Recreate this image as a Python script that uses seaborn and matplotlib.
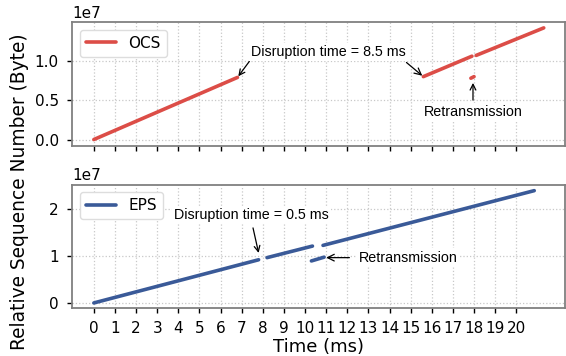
import numpy as np
import pandas as pd
import seaborn as sns
import matplotlib.pyplot as plt

# time (ms) / relative sequence number (byte), one list per drawn segment
ocs_t1 = [0.0, 6.8]
ocs_seq1 = [0.0, 0.79e7]
ocs_t2 = [15.6, 17.9]
ocs_seq2 = [0.80e7, 1.06e7]
ocs_retx_t = [17.85, 18.0]
ocs_retx_seq = [0.78e7, 0.80e7]
ocs_t3 = [18.1, 21.3]
ocs_seq3 = [1.07e7, 1.42e7]

eps_t1 = [0.0, 7.8]
eps_seq1 = [0.0, 0.915e7]
eps_t2 = [8.2, 10.35]
eps_seq2 = [0.96e7, 1.205e7]
eps_retx_t = [10.3, 10.9]
eps_retx_seq = [0.89e7, 0.97e7]
eps_t3 = [10.85, 20.85]
eps_seq3 = [1.22e7, 2.38e7]

xticks = list(range(0, 21))

OCS_COLOR = '#dc4d47'
EPS_COLOR = '#3a5a98'

sns.set_theme(style='ticks')
plt.rcParams['font.family'] = ['DejaVu Sans']
plt.rcParams['axes.edgecolor'] = '#808080'
plt.rcParams['axes.linewidth'] = 1.3
plt.rcParams['text.color'] = 'black'
plt.rcParams['xtick.color'] = 'black'
plt.rcParams['ytick.color'] = 'black'
plt.rcParams['axes.labelcolor'] = 'black'

fig, (ax1, ax2) = plt.subplots(2, 1, sharex=True, figsize=(5.66, 3.56), dpi=100)
fig.subplots_adjust(left=0.127, right=0.998, top=0.938, bottom=0.135, hspace=0.316)


def draw(ax, segs, color, name):
    for i, (t, s) in enumerate(segs):
        df = pd.DataFrame({'t': t, 's': s})
        sns.lineplot(data=df, x='t', y='s', color=color, lw=2.6,
                     label=name if i == 0 else None, ax=ax, legend=False)


draw(ax1, [(ocs_t1, ocs_seq1), (ocs_t2, ocs_seq2), (ocs_retx_t, ocs_retx_seq), (ocs_t3, ocs_seq3)],
     OCS_COLOR, 'OCS')
draw(ax2, [(eps_t1, eps_seq1), (eps_t2, eps_seq2), (eps_retx_t, eps_retx_seq), (eps_t3, eps_seq3)],
     EPS_COLOR, 'EPS')

ax1.set_ylim(-0.076e7, 1.494e7)
ax2.set_ylim(-0.106e7, 2.51e7)
ax1.set_yticks([0, 0.5e7, 1.0e7])
ax2.set_yticks([0, 1e7, 2e7])
ax2.set_xlim(-1.04, 22.3)
ax2.set_xticks(xticks)

for ax in (ax1, ax2):
    ax.grid(True, linestyle=':', color='#c8c8c8', lw=0.9)
    ax.set_xlabel('')
    ax.set_ylabel('')
    ax.tick_params(length=3.5, width=1, color='black', pad=6, labelsize=11)
    ax.legend(loc='upper left', fontsize=11, fancybox=True, framealpha=1,
              edgecolor='#dddddd', borderpad=0.4)
    ax.yaxis.get_offset_text().set_fontsize(11)

ann = dict(family='Liberation Sans', fontsize=10.3)
box = dict(boxstyle='square,pad=0.15', fc='white', ec='none')
arrow = dict(arrowstyle='->', color='black', lw=0.9)

# OCS annotations
ax1.annotate('Disruption time = 8.5 ms', xy=(6.8, 0.79e7), xytext=(11.1, 1.11e7),
             ha='center', va='center', bbox=box,
             arrowprops=dict(arrow, relpos=(0, 0), shrinkA=0, shrinkB=1), **ann)
ax1.annotate('', xy=(15.6, 0.80e7), xytext=(14.8, 0.98e7),
             arrowprops=dict(arrow, shrinkA=0, shrinkB=1))
ax1.annotate('Retransmission', xy=(17.95, 0.72e7), xytext=(17.95, 0.35e7),
             ha='center', va='center', bbox=box,
             arrowprops=dict(arrow, relpos=(0.5, 1), shrinkA=2, shrinkB=0), **ann)

# EPS annotations
ax2.annotate('Disruption time = 0.5 ms', xy=(7.8, 1.06e7), xytext=(7.47, 1.87e7),
             ha='center', va='center', bbox=box,
             arrowprops=dict(arrow, relpos=(0.5, 0), shrinkA=3, shrinkB=0), **ann)
ax2.annotate('', xy=(11.0, 0.96e7), xytext=(12.1, 0.96e7),
             arrowprops=dict(arrow, shrinkA=0, shrinkB=0))
ax2.text(12.53, 0.96e7, 'Retransmission', ha='left', va='center', bbox=box, **ann)

fig.text(0.5 * (0.127 + 0.998), 0.025, 'Time (ms)', ha='center', va='center', fontsize=13)
fig.text(0.034, 0.462, 'Relative Sequence Number (Byte)', ha='center', va='center',
         rotation=90, fontsize=13.4)

fig.savefig('out.png', dpi=100)
